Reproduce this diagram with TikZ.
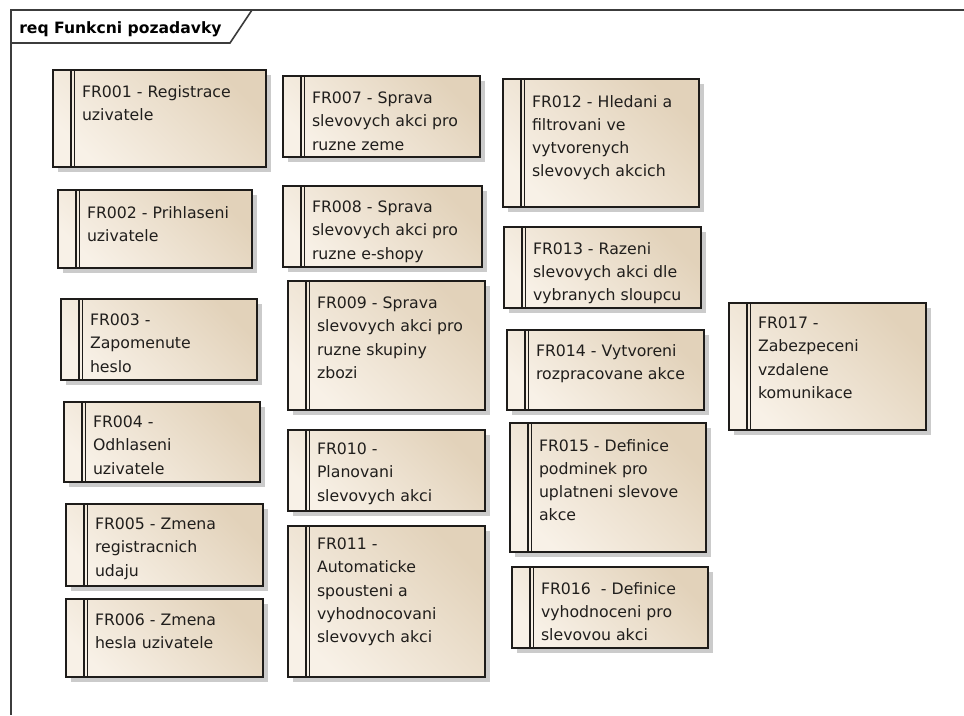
\documentclass[tikz,border=0pt]{standalone}
\usepackage{fontspec}
\setmainfont{DejaVu Sans}
\usetikzlibrary{calc,shadows}

\definecolor{reqtan}{RGB}{226,210,186}
\definecolor{reqcream}{RGB}{248,241,231}
\definecolor{reqline}{RGB}{30,28,26}
\definecolor{reqtextcol}{RGB}{32,30,28}
\definecolor{framecol}{RGB}{60,60,60}

\tikzset{
  reqbox/.style={
    draw=reqline, line width=1.2pt, anchor=north west, inner sep=0pt, outer sep=0pt,
    top color=reqtan, bottom color=reqcream, shading angle=-45,
    drop shadow={shadow xshift=3.8pt, shadow yshift=-3.8pt, fill=black!40, opacity=0.5}},
  stripe/.style={draw=reqline, line width=1.0pt},
  reqtext/.style={anchor=north west, inner sep=0pt, outer sep=0pt, align=left,
    text=reqtextcol, font=\fontsize{11.8pt}{17.3pt}\selectfont},
  frameline/.style={draw=framecol, line width=1.2pt},
  titletext/.style={anchor=base west, inner sep=0pt, text=black,
    font=\bfseries\fontsize{11.7pt}{13pt}\selectfont}
}

% #1 name, #2 left, #3 top, #4 right, #5 bottom, #6 centre of first text line below top, #7 text
\newcommand\reqitem[7]{%
  \pgfmathsetmacro\reqw{(#4-#2)*0.75}%
  \pgfmathsetmacro\reqh{(#5-#3)*0.75}%
  \node[reqbox, minimum width=\reqw pt, minimum height=\reqh pt] (#1) at (#2,#3) {};
  \draw[stripe] ([xshift=13.5pt]#1.north west) -- ([xshift=13.5pt]#1.south west);
  \draw[stripe] ([xshift=16.2pt]#1.north west) -- ([xshift=16.2pt]#1.south west);
  \node[reqtext] (#1t) at ($(#1.north west)+(29,#6-5.8)$) {#7};
}

\begin{document}
\begin{tikzpicture}[x=0.75pt, y=-0.75pt]
  \useasboundingbox (0,0) rectangle (964,715);
  \fill[white] (0,0) rectangle (964,715);

  % diagram frame with its name tab
  \draw[frameline] (964,10) -- (11,10) -- (11,715);
  \draw[frameline] (11,43) -- (230,43) -- (252,10);
  \node[titletext] (title) at (19,33.5) {req Funkcni pozadavky};

  % first column
  \reqitem{fr001}{53}{70}{266}{167}{21}{FR001 - Registrace\\uzivatele}
  \reqitem{fr002}{58}{190}{252}{268}{22}{FR002 - Prihlaseni\\uzivatele}
  \reqitem{fr003}{61}{299}{257}{380}{21}{FR003 -\\Zapomenute\\heslo}
  \reqitem{fr004}{64}{402}{260}{482}{20}{FR004 -\\Odhlaseni\\uzivatele}
  \reqitem{fr005}{66}{504}{263}{586}{20}{FR005 - Zmena\\registracnich\\udaju}
  \reqitem{fr006}{66}{599}{263}{677}{21}{FR006 - Zmena\\hesla uzivatele}

  % second column
  \reqitem{fr007}{283}{76}{480}{157}{22}{FR007 - Sprava\\slevovych akci pro\\ruzne zeme}
  \reqitem{fr008}{283}{186}{482}{267}{21}{FR008 - Sprava\\slevovych akci pro\\ruzne e-shopy}
  \reqitem{fr009}{288}{281}{485}{410}{22}{FR009 - Sprava\\slevovych akci pro\\ruzne skupiny\\zbozi}
  \reqitem{fr010}{288}{430}{485}{511}{19}{FR010 -\\Planovani\\slevovych akci}
  \reqitem{fr011}{288}{526}{485}{677}{18}{FR011 -\\Automaticke\\spousteni a\\vyhodnocovani\\slevovych akci}

  % third column
  \reqitem{fr012}{503}{79}{699}{207}{22}{FR012 - Hledani a\\filtrovani ve\\vytvorenych\\slevovych akcich}
  \reqitem{fr013}{504}{227}{701}{308}{21}{FR013 - Razeni\\slevovych akci dle\\vybranych sloupcu}
  \reqitem{fr014}{507}{330}{704}{410}{20}{FR014 - Vytvoreni\\rozpracovane akce}
  \reqitem{fr015}{510}{423}{706}{552}{22}{FR015 - Definice\\podminek pro\\uplatneni slevove\\akce}
  \reqitem{fr016}{512}{567}{708}{648}{21}{FR016\ \ - Definice\\vyhodnoceni pro\\slevovou akci}

  % fourth column
  \reqitem{fr017}{729}{303}{926}{430}{20}{FR017 -\\Zabezpeceni\\vzdalene\\komunikace}
\end{tikzpicture}
\end{document}
